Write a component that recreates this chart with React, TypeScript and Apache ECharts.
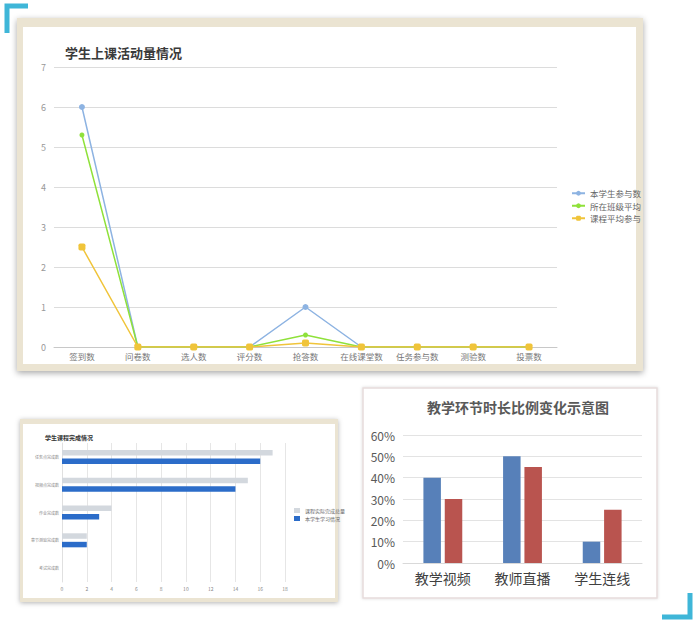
import React, { useEffect, useRef } from "react";
import * as echarts from "echarts";

// Chart 1: 学生上课活动量情况
const activityCategories = ["签到数", "问卷数", "选人数", "评分数", "抢答数", "在线课堂数", "任务参与数", "测验数", "投票数"];
const studentCounts = [6, 0, 0, 0, 1, 0, 0, 0, 0];
const classAverage = [5.3, 0, 0, 0, 0.3, 0, 0, 0, 0];
const courseAverage = [2.5, 0, 0, 0, 0.1, 0, 0, 0, 0];
const activityNames = ["本学生参与数", "所在班级平均", "课程平均参与"];

// Chart 2: 学生课程完成情况
const completionCategories = ["任务点完成数", "视频点完成数", "作业完成数", "章节测验完成数", "考试完成数"];
const courseTotals = [17, 15, 4, 2, 0];
const studentCompletion = [16, 14, 3, 2, 0];
const completionNames = ["课程实际完成总量", "本学生学习情况"];

// Chart 3: 教学环节时长比例变化示意图
const stageCategories = ["教学视频", "教师直播", "学生连线"];
const stageBefore = [0.4, 0.5, 0.1];
const stageAfter = [0.3, 0.45, 0.25];

const FONT = "'Noto Sans CJK SC', 'Noto Sans', sans-serif";

export default function App() {
  const ref = useRef<HTMLDivElement>(null);
  useEffect(() => {
    document.body.style.margin = "0";
    const chart = echarts.init(ref.current!, null, { renderer: "svg" });
    const option: any = {
      animation: false,
      backgroundColor: "#ffffff",
      textStyle: { fontFamily: FONT },
      graphic: [
        // main panel frame
        {
          type: "rect", z: -10, shape: { x: 17, y: 18, width: 626, height: 353 },
          style: { fill: "#ebe4d2", shadowBlur: 6, shadowColor: "rgba(0,0,0,0.35)", shadowOffsetY: 2 },
        },
        { type: "rect", z: -9, shape: { x: 23, y: 27, width: 613, height: 337 }, style: { fill: "#ffffff" } },
        // bottom-left panel frame
        {
          type: "rect", z: -10, shape: { x: 20, y: 419, width: 318, height: 183 },
          style: { fill: "#ebe4d2", shadowBlur: 5, shadowColor: "rgba(0,0,0,0.3)", shadowOffsetY: 1 },
        },
        { type: "rect", z: -9, shape: { x: 23, y: 424, width: 312, height: 174 }, style: { fill: "#ffffff" } },
        // bottom-right panel frame
        {
          type: "rect", z: -10, shape: { x: 363, y: 388, width: 294, height: 210 },
          style: { fill: "#ffffff", stroke: "#e6dcdc", lineWidth: 1.5, shadowBlur: 3, shadowColor: "rgba(0,0,0,0.15)" },
        },
        // corner decorations
        { type: "polyline", shape: { points: [[7, 33], [7, 6], [28, 6]] }, style: { stroke: "#3fb6d8", lineWidth: 5, fill: "none" } },
        { type: "polyline", shape: { points: [[662, 617], [690, 617], [690, 593]] }, style: { stroke: "#3fb6d8", lineWidth: 5, fill: "none" } },
      ],
      title: [
        {
          text: "学生上课活动量情况", left: 60, top: 41,
          textStyle: { fontSize: 13, fontWeight: "bold", color: "#3a3a3a", fontFamily: FONT },
        },
        {
          text: "学生课程完成情况", left: 40, top: 429,
          textStyle: { fontSize: 6, fontWeight: "bold", color: "#333", fontFamily: FONT },
        },
        {
          text: "教学环节时长比例变化示意图", left: 513, top: 395, textAlign: "center",
          textStyle: { fontSize: 14, fontWeight: "bold", color: "#595959", fontFamily: FONT },
        },
      ],
      legend: [
        {
          data: activityNames, orient: "vertical", left: 566, top: 184, itemGap: 4,
          itemWidth: 13, itemHeight: 6,
          textStyle: { fontSize: 8.5, color: "#666", fontFamily: FONT },
        },
        {
          data: completionNames, orient: "vertical", left: 289, top: 503, itemGap: 3,
          itemWidth: 6, itemHeight: 5, icon: "rect",
          textStyle: { fontSize: 5, color: "#666", fontFamily: FONT },
        },
      ],
      grid: [
        { left: 54, top: 67, width: 503, height: 280 },
        { left: 62, top: 443, width: 223, height: 139 },
        { left: 403, top: 435, width: 239, height: 128 },
      ],
      xAxis: [
        {
          gridIndex: 0, type: "category", data: activityCategories, boundaryGap: true,
          axisLine: { lineStyle: { color: "#c8c8c8" } },
          axisTick: { lineStyle: { color: "#c8c8c8" } },
          axisLabel: { fontSize: 8.5, color: "#777", margin: 5, interval: 0, fontFamily: FONT },
        },
        {
          gridIndex: 1, type: "value", min: 0, max: 18, interval: 2,
          axisLine: { show: false }, axisTick: { show: false },
          axisLabel: { fontSize: 5, color: "#888", margin: 4 },
          splitLine: { lineStyle: { color: "#e6e6e6" } },
        },
        {
          gridIndex: 2, type: "category", data: stageCategories,
          axisLine: { lineStyle: { color: "#d9d9d9" } }, axisTick: { show: false },
          axisLabel: { fontSize: 14, color: "#404040", margin: 8, fontFamily: FONT },
        },
      ],
      yAxis: [
        {
          gridIndex: 0, type: "value", min: 0, max: 7, interval: 1,
          axisLine: { show: false }, axisTick: { show: false },
          axisLabel: { fontSize: 9, color: "#999", margin: 8 },
          splitLine: { lineStyle: { color: "#dcdcdc" } },
        },
        {
          gridIndex: 1, type: "category", data: completionCategories, inverse: true,
          axisLine: { lineStyle: { color: "#e0e0e0" } }, axisTick: { show: false },
          axisLabel: { fontSize: 4, color: "#888", margin: 3, fontFamily: FONT },
        },
        {
          gridIndex: 2, type: "value", min: 0, max: 0.6, interval: 0.1,
          axisLine: { show: false }, axisTick: { show: false },
          axisLabel: {
            fontSize: 12, color: "#595959", margin: 8,
            formatter: (v: number) => Math.round(v * 100) + "%",
          },
          splitLine: { lineStyle: { color: "#e3e3e3" } },
        },
      ],
      series: [
        {
          name: activityNames[0], type: "line", xAxisIndex: 0, yAxisIndex: 0, data: studentCounts,
          symbol: "circle", symbolSize: 6,
          lineStyle: { color: "#8db3e2", width: 1.5 }, itemStyle: { color: "#8db3e2" },
        },
        {
          name: activityNames[1], type: "line", xAxisIndex: 0, yAxisIndex: 0, data: classAverage,
          symbol: "circle", symbolSize: 5,
          lineStyle: { color: "#8fe13a", width: 1.5 }, itemStyle: { color: "#8fe13a" },
        },
        {
          name: activityNames[2], type: "line", xAxisIndex: 0, yAxisIndex: 0, data: courseAverage,
          symbol: "roundRect", symbolSize: 7,
          lineStyle: { color: "#f0c43a", width: 1.5 }, itemStyle: { color: "#f0c43a" },
        },
        {
          name: completionNames[0], type: "bar", xAxisIndex: 1, yAxisIndex: 1, data: courseTotals,
          barWidth: 5.5, barGap: "55%", itemStyle: { color: "#d3d8de" },
        },
        {
          name: completionNames[1], type: "bar", xAxisIndex: 1, yAxisIndex: 1, data: studentCompletion,
          barWidth: 5.5, barGap: "55%", itemStyle: { color: "#2b6cc9" },
        },
        {
          name: "调整前", type: "bar", xAxisIndex: 2, yAxisIndex: 2, data: stageBefore,
          barWidth: 17.5, barGap: "22%", itemStyle: { color: "#5780b9" },
        },
        {
          name: "调整后", type: "bar", xAxisIndex: 2, yAxisIndex: 2, data: stageAfter,
          barWidth: 17.5, barGap: "22%", itemStyle: { color: "#b9544f" },
        },
      ],
    };
    chart.setOption(option);
    return () => chart.dispose();
  }, []);
  return <div ref={ref} style={{ position: "absolute", left: 0, top: 0, width: 699, height: 628 }} />;
}
